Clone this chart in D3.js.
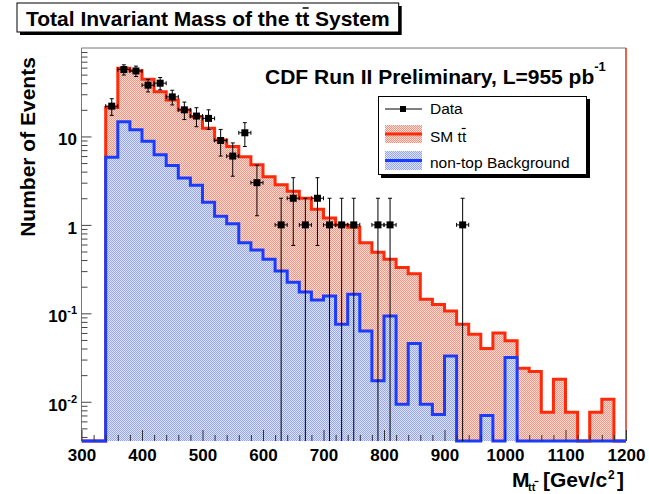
<!DOCTYPE html>
<html><head><meta charset="utf-8">
<script src="https://cdn.jsdelivr.net/npm/d3@7/dist/d3.min.js"></script>
<style>body{margin:0;background:#fff}svg{display:block;font-family:"Liberation Sans",Arial,Helvetica,sans-serif}</style>
</head><body><svg id="c" width="649" height="494"></svg>
<script>
// ---- data ----
const binEdges=[300,320,340,360,380,400,420,440,460,480,500,520,540,560,580,600,620,640,660,680,700,720,740,760,780,800,820,840,860,880,900,920,940,960,980,1000,1020,1040,1060,1080,1100,1120,1140,1160,1180,1200];
const smTT=[0,0,21.2,58.9,55.4,44.3,32.1,25.9,19.9,16.7,12.4,9.1,7.7,5.9,4.8,3.5,2.85,2.4,2.0,1.5,1.2,1.0,0.94,0.63,0.49,0.41,0.33,0.28,0.144,0.126,0.106,0.075,0.058,0.040,0.060,0.049,0.024,0.022,0.0076,0.018,0.0076,0,0.0076,0.0107,0];
const nonTop=[0,0,5.8,14.7,11.9,8.8,6.2,4.7,3.4,2.8,1.8,1.25,1.03,0.63,0.52,0.41,0.30,0.225,0.174,0.141,0.157,0.075,0.164,0.063,0.0173,0.093,0.0094,0.0457,0.0094,0.0072,0.033,0,0,0.0070,0,0.0316,0,0,0,0,0,0,0,0,0];
const dataCounts=[0,0,22,57,55,38,40,28,20,17,16,9,6,11,3,0,1,2,1,2,1,1,1,0,1,1,0,0,0,0,0,1,0,0,0,0,0,0,0,0,0,0,0,0,0];
const xMajorTicks=[300,400,500,600,700,800,900,1000,1100,1200];
const xMinorTicks=[320,340,360,380,420,440,460,480,520,540,560,580,620,640,660,680,720,740,760,780,820,840,860,880,920,940,960,980,1020,1040,1060,1080,1120,1140,1160,1180];
const yMajorTicks=[0.01,0.1,1,10];
const yTickLabels=[["10","-2"],["10","-1"],["1",""],["10",""]];
const yMinorTicks=[0.004,0.005,0.006,0.007,0.008,0.009,0.02,0.03,0.04,0.05,0.06,0.07,0.08,0.09,0.2,0.3,0.4,0.5,0.6,0.7,0.8,0.9,2,3,4,5,6,7,8,9,20,30,40,50,60,70,80,90];
const legendLabels=["Data","SM t","non-top Background"];

// ---- layout ----
const svg=d3.select("#c");
const X0=81.5,X1=626,Y0=48,Y1=441;
const x=d3.scaleLinear().domain([300,1200]).range([X0,X1]);
const yMin=0.0036;
const y=d3.scaleLog().domain([yMin,100]).range([Y1,Y0]);
const RED="#ff2a0a",BLUE="#1a3cff";

const defs=svg.append("defs");
function pat(id,bg,dot){
  const p=defs.append("pattern").attr("id",id).attr("patternUnits","userSpaceOnUse").attr("width",2).attr("height",2);
  p.append("rect").attr("width",2).attr("height",2).attr("fill",bg);
  p.append("rect").attr("x",0).attr("y",0).attr("width",1).attr("height",1).attr("fill",dot);
  p.append("rect").attr("x",1).attr("y",1).attr("width",1).attr("height",1).attr("fill",dot);
}
pat("pr","#fde0da","#f6917e");
pat("pb","#dfe4fb","#93a4f0");
defs.append("clipPath").attr("id","fr").append("rect").attr("x",X0).attr("y",Y0-2).attr("width",X1-X0).attr("height",Y1-Y0+4);

function histLine(vals){
  let p=`M${x(binEdges[0])},${Y1}`;
  vals.forEach((v,i)=>{const yy=v>0?y(v):Y1;p+=`L${x(binEdges[i])},${yy}L${x(binEdges[i+1])},${yy}`;});
  p+=`L${x(binEdges[binEdges.length-1])},${Y1}`;
  return p;
}
const g=svg.append("g").attr("clip-path","url(#fr)");
g.append("path").attr("d",histLine(smTT)+"Z").attr("fill","url(#pr)");
g.append("path").attr("d",histLine(smTT)).attr("fill","none").attr("stroke",RED).attr("stroke-width",3);
g.append("path").attr("d",histLine(nonTop)+"Z").attr("fill","url(#pb)");
g.append("path").attr("d",histLine(nonTop)).attr("fill","none").attr("stroke",BLUE).attr("stroke-width",3);

// data points
const pts=dataCounts.map((n,i)=>({n,lo:binEdges[i],hi:binEdges[i+1]})).filter(d=>d.n>0);
const dg=svg.append("g").attr("stroke","#000").attr("stroke-width",1);
pts.forEach(d=>{
  const cx=x((d.lo+d.hi)/2), cy=y(d.n), e=Math.sqrt(d.n);
  const yt=y(d.n+e), low=d.n-e, yb=low>yMin?y(low):Y1;
  dg.append("line").attr("x1",cx).attr("x2",cx).attr("y1",yt).attr("y2",yb);
  dg.append("line").attr("x1",cx-2).attr("x2",cx+2).attr("y1",yt).attr("y2",yt);
  if(low>yMin) dg.append("line").attr("x1",cx-2).attr("x2",cx+2).attr("y1",yb).attr("y2",yb);
  dg.append("line").attr("x1",x(d.lo)).attr("x2",x(d.hi)).attr("y1",cy).attr("y2",cy);
  dg.append("line").attr("x1",x(d.lo)).attr("x2",x(d.lo)).attr("y1",cy-2).attr("y2",cy+2);
  dg.append("line").attr("x1",x(d.hi)).attr("x2",x(d.hi)).attr("y1",cy-2).attr("y2",cy+2);
  svg.append("rect").attr("x",cx-3.5).attr("y",cy-3.5).attr("width",7).attr("height",7).attr("fill","#000");
});

// frame
svg.append("line").attr("x1",X0).attr("x2",X1).attr("y1",Y0).attr("y2",Y0).attr("stroke","#777");
svg.append("line").attr("x1",X1).attr("x2",X1).attr("y1",Y0).attr("y2",Y1).attr("stroke","#d8301c").attr("stroke-width",1.5);
svg.append("line").attr("x1",X0).attr("x2",X0).attr("y1",Y0).attr("y2",Y1).attr("stroke","#777");

// axes
const axB=svg.append("g").attr("transform",`translate(0,${Y1})`);
axB.call(d3.axisBottom(x).tickValues(xMajorTicks).tickSize(-11).tickSizeOuter(0).tickPadding(16).tickFormat(d3.format("d")));
const axBm=svg.append("g").attr("transform",`translate(0,${Y1})`);
axBm.call(d3.axisBottom(x).tickValues(xMinorTicks).tickSize(-6).tickSizeOuter(0).tickFormat(""));
[axB,axBm].forEach(a=>{a.select(".domain").remove();a.selectAll("line").attr("stroke","#333");});
axB.selectAll("text").attr("font-size",17).attr("font-weight","bold").attr("fill","#000").attr("font-family","Liberation Sans, Arial, sans-serif").attr("dy","0.25em");

const axL=svg.append("g").attr("transform",`translate(${X0},0)`);
axL.call(d3.axisLeft(y).tickValues(yMajorTicks).tickSize(-10).tickSizeOuter(0).tickFormat(""));
const axLm=svg.append("g").attr("transform",`translate(${X0},0)`);
axLm.call(d3.axisLeft(y).tickValues(yMinorTicks).tickSize(-6).tickSizeOuter(0).tickFormat(""));
[axL,axLm].forEach(a=>{a.select(".domain").remove();a.selectAll("line").attr("stroke","#444");});
yMajorTicks.forEach((v,i)=>{
  const [b,s]=yTickLabels[i];
  const t=svg.append("text").attr("x",77).attr("y",y(v)+9).attr("text-anchor","end").attr("font-size",17).attr("font-weight","bold");
  t.append("tspan").text(b);
  if(s){t.append("tspan").attr("font-size",11).attr("dy",-8).text(s);}
});

// axis titles
svg.append("text").attr("transform","translate(35,147) rotate(-90)").attr("text-anchor","middle")
  .attr("font-size",21).attr("font-weight","bold").text("Number of Events");
const xt=svg.append("g").attr("font-weight","bold");
xt.append("text").attr("x",512).attr("y",487).attr("font-size",21).text("M");
xt.append("text").attr("x",528).attr("y",491).attr("font-size",11).text("tt");
xt.append("line").attr("x1",534.5).attr("x2",538.5).attr("y1",481.5).attr("y2",481.5).attr("stroke","#000").attr("stroke-width",1.2);
xt.append("text").attr("x",543).attr("y",487).attr("font-size",21).text("[Gev/c");
xt.append("text").attr("x",608).attr("y",479).attr("font-size",12).text("2");
xt.append("text").attr("x",617).attr("y",487).attr("font-size",21).text("]");

// title box
const titleG=svg.append("g");
const tt=titleG.append("text").attr("x",26).attr("y",26).attr("font-size",21).attr("font-weight","bold").text("Total Invariant Mass of the tt System");
const tbb=tt.node().getBBox();
const bx=17,by=3,bw=tbb.x+tbb.width+9-bx,bh=29;
titleG.insert("rect","text").attr("x",bx+3).attr("y",by+3).attr("width",bw).attr("height",bh).attr("fill","#000");
titleG.insert("rect","text").attr("x",bx).attr("y",by).attr("width",bw).attr("height",bh).attr("fill","#fff").attr("stroke","#000");
{
  const pre="Total Invariant Mass of the t";
  const tmp=titleG.append("text").attr("font-size",21).attr("font-weight","bold").attr("visibility","hidden").text(pre);
  const w0=tmp.node().getComputedTextLength();tmp.remove();
  titleG.append("line").attr("x1",26+w0+0.5).attr("x2",26+w0+6.5).attr("y1",8).attr("y2",8).attr("stroke","#000").attr("stroke-width",1.5);
}

// CDF label
const cdf=svg.append("text").attr("x",265).attr("y",84).attr("font-size",21).attr("font-weight","bold");
cdf.append("tspan").text("CDF Run II Preliminary, L=955 pb");
cdf.append("tspan").attr("font-size",13).attr("dy",-13).text("-1");

// legend
const lg=svg.append("g");
lg.append("rect").attr("x",381).attr("y",99).attr("width",209).attr("height",79).attr("fill","#000");
lg.append("rect").attr("x",378.5).attr("y",96.5).attr("width",208).attr("height",78).attr("fill","#fff").attr("stroke","#000");
lg.append("line").attr("x1",385).attr("x2",422).attr("y1",109).attr("y2",109).attr("stroke","#000");
lg.append("rect").attr("x",400).attr("y",106).attr("width",6).attr("height",6).attr("fill","#000");
lg.append("rect").attr("x",385).attr("y",125).attr("width",37).attr("height",18).attr("fill","url(#pr)");
lg.append("line").attr("x1",385).attr("x2",422).attr("y1",134).attr("y2",134).attr("stroke",RED).attr("stroke-width",3);
lg.append("rect").attr("x",385).attr("y",151).attr("width",37).attr("height",19).attr("fill","url(#pb)");
lg.append("line").attr("x1",385).attr("x2",422).attr("y1",160.5).attr("y2",160.5).attr("stroke",BLUE).attr("stroke-width",3);
const lys=[113.5,141.5,167.5];
legendLabels.forEach((s,i)=>{
  const t=lg.append("text").attr("x",430).attr("y",lys[i]).attr("font-size",15.5).text(s);
  if(i===1){
    t.append("tspan").text("t");
    const w=t.node().getComputedTextLength();
    lg.append("line").attr("x1",430+w-4.5).attr("x2",430+w-0.5).attr("y1",lys[i]-13).attr("y2",lys[i]-13).attr("stroke","#000").attr("stroke-width",1.2);
  }
});
</script></body></html>
